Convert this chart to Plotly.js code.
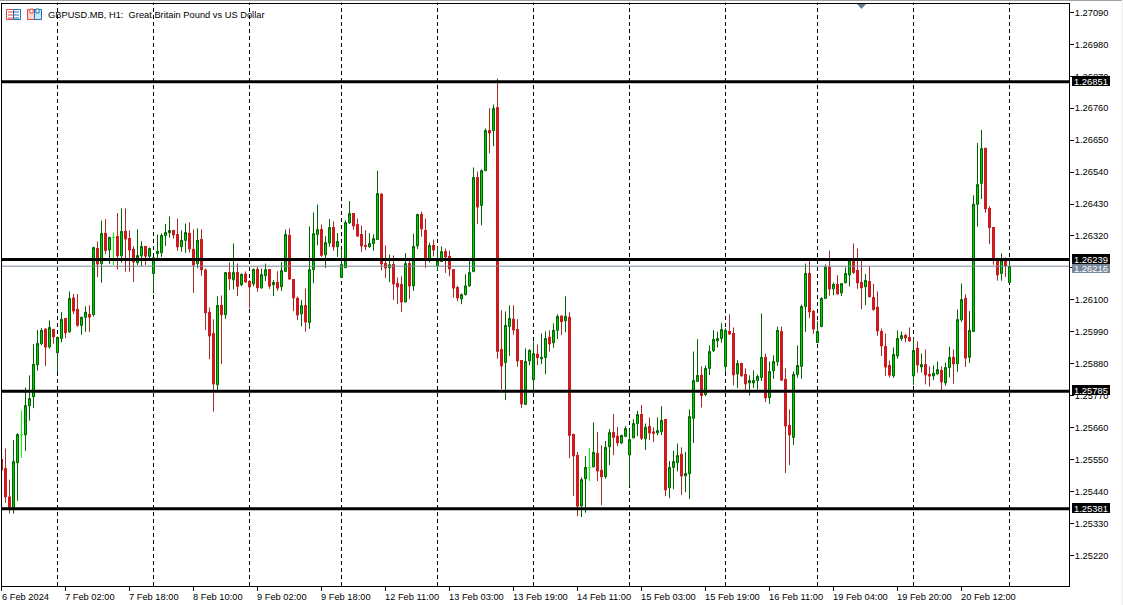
<!DOCTYPE html>
<html>
<head>
<meta charset="utf-8">
<script src="https://cdn.plot.ly/plotly-3.0.1.min.js"></script>
<style>html,body{margin:0;padding:0;background:#fff;overflow:hidden}#chart{width:1123px;height:605px}</style>
</head>
<body>
<div id="chart"></div>
<script>
const open = [
1.25550,1.25519,1.25421,1.25385,1.25539,1.25636,1.25635,1.25735,1.25766,1.25876,
1.25949,1.25999,1.25938,1.25998,1.25918,1.25967,1.26036,1.25990,1.26106,1.26067,
1.26012,1.26040,1.26050,1.26049,1.26277,1.26225,1.26329,1.26272,1.26315,1.26318,
1.26252,1.26336,1.26311,1.26274,1.26228,1.26252,1.26284,1.26250,1.26191,1.26259,
1.26262,1.26321,1.26331,1.26339,1.26325,1.26283,1.26305,1.26329,1.26274,1.26225,
1.26308,1.26202,1.26057,1.25984,1.25808,1.26081,1.26049,1.26194,1.26169,1.26194,
1.26152,1.26189,1.26163,1.26155,1.26205,1.26141,1.26183,1.26204,1.26152,1.26160,
1.26145,1.26198,1.26322,1.26170,1.26105,1.26052,1.26080,1.26022,1.26204,1.26325,
1.26342,1.26255,1.26296,1.26349,1.26283,1.26177,1.26211,1.26365,1.26397,1.26359,
1.26325,1.26287,1.26283,1.26294,1.26308,1.26464,1.26225,1.26211,1.26222,1.26156,
1.26153,1.26093,1.26225,1.26148,1.26286,1.26394,1.26339,1.26242,1.26287,1.26217,
1.26232,1.26266,1.26249,1.26204,1.26142,1.26103,1.26118,1.26148,1.26198,1.26521,
1.26425,1.26545,1.26683,1.26683,1.26762,1.25929,1.25884,1.26008,1.26033,1.25998,
1.25891,1.25740,1.25890,1.25825,1.25913,1.25897,1.25901,1.25971,1.25952,1.25995,
1.26044,1.26028,1.26040,1.25636,1.25564,1.25390,1.25484,1.25523,1.25525,1.25571,
1.25513,1.25491,1.25594,1.25643,1.25630,1.25607,1.25630,1.25566,1.25625,1.25674,
1.25705,1.25622,1.25664,1.25645,1.25642,1.25646,1.25688,1.25453,1.25523,1.25539,
1.25568,1.25494,1.25501,1.25692,1.25819,1.25840,1.25774,1.25864,1.25925,1.25959,
1.25967,1.25870,1.25991,1.25984,1.25845,1.25881,1.25843,1.25814,1.25814,1.25822,
1.25833,1.25902,1.25763,1.25856,1.25887,1.25991,1.25826,1.25667,1.25626,1.25843,
1.25871,1.26077,1.26191,1.26060,1.25953,1.26008,1.26105,1.26212,1.26138,1.26153,
1.26124,1.26159,1.26186,1.26236,1.26201,1.26160,1.26145,1.26163,1.26108,1.26074,
1.25991,1.25939,1.25874,1.25838,1.25907,1.25967,1.25977,1.25970,1.25838,1.25933,
1.25869,1.25877,1.25843,1.25838,1.25845,1.25857,1.25814,1.25867,1.25902,1.25880,
1.26031,1.26105,1.25902,1.25991,1.26429,1.26501,1.26621,1.26415,1.26349,1.26236,
1.26191,1.26236,1.26160];
const high = [
1.25552,1.25588,1.25481,1.25617,1.25641,1.25720,1.25798,1.25840,1.25948,1.25996,
1.26002,1.26002,1.26029,1.25998,1.25973,1.26058,1.26036,1.26129,1.26120,1.26120,
1.26042,1.26078,1.26081,1.26283,1.26301,1.26373,1.26378,1.26317,1.26332,1.26399,
1.26415,1.26415,1.26339,1.26284,1.26343,1.26302,1.26284,1.26280,1.26248,1.26325,
1.26329,1.26361,1.26387,1.26339,1.26380,1.26339,1.26363,1.26367,1.26343,1.26346,
1.26343,1.26208,1.26074,1.26033,1.26112,1.26115,1.26196,1.26229,1.26294,1.26225,
1.26191,1.26198,1.26168,1.26208,1.26214,1.26208,1.26225,1.26204,1.26168,1.26199,
1.26230,1.26342,1.26346,1.26172,1.26111,1.26099,1.26139,1.26353,1.26401,1.26428,
1.26359,1.26319,1.26378,1.26370,1.26330,1.26271,1.26374,1.26440,1.26397,1.26380,
1.26356,1.26340,1.26330,1.26326,1.26545,1.26466,1.26287,1.26256,1.26253,1.26177,
1.26181,1.26261,1.26239,1.26328,1.26397,1.26404,1.26380,1.26297,1.26308,1.26283,
1.26284,1.26277,1.26270,1.26204,1.26149,1.26122,1.26188,1.26234,1.26556,1.26542,
1.26550,1.26690,1.26760,1.26773,1.26862,1.26064,1.26060,1.26081,1.26081,1.26033,
1.25893,1.25933,1.25930,1.25957,1.25946,1.25984,1.25991,1.25995,1.26019,1.26050,
1.26046,1.26112,1.26057,1.25640,1.25576,1.25488,1.25562,1.25589,1.25678,1.25645,
1.25599,1.25614,1.25655,1.25707,1.25662,1.25636,1.25665,1.25654,1.25689,1.25718,
1.25738,1.25674,1.25695,1.25661,1.25695,1.25734,1.25690,1.25545,1.25581,1.25605,
1.25592,1.25576,1.25723,1.25922,1.25964,1.25871,1.25874,1.25943,1.25996,1.25991,
1.26019,1.26002,1.26050,1.26005,1.25892,1.25883,1.25864,1.25840,1.25857,1.25843,
1.26053,1.25915,1.25888,1.25909,1.26008,1.26008,1.25864,1.25723,1.25853,1.25943,
1.26084,1.26225,1.26239,1.26065,1.26026,1.26109,1.26222,1.26270,1.26160,1.26185,
1.26158,1.26212,1.26241,1.26294,1.26277,1.26236,1.26189,1.26215,1.26155,1.26129,
1.26001,1.25984,1.25891,1.25936,1.25995,1.25991,1.25984,1.26005,1.25969,1.25957,
1.25915,1.25929,1.25871,1.25874,1.25888,1.25871,1.25884,1.25939,1.25929,1.26067,
1.26156,1.26119,1.26061,1.26460,1.26640,1.26685,1.26625,1.26422,1.26351,1.26238,
1.26260,1.26246,1.26240];
const low = [
1.25510,1.25401,1.25364,1.25364,1.25408,1.25556,1.25580,1.25684,1.25727,1.25856,
1.25944,1.25872,1.25932,1.25949,1.25852,1.25954,1.25968,1.25987,1.26051,1.26007,
1.25980,1.25990,1.25990,1.26042,1.26178,1.26159,1.26258,1.26223,1.26220,1.26204,
1.26228,1.26197,1.26197,1.26161,1.26220,1.26216,1.26220,1.26241,1.26122,1.26243,
1.26248,1.26286,1.26314,1.26311,1.26269,1.26266,1.26262,1.26263,1.26124,1.26209,
1.26183,1.25996,1.25896,1.25715,1.25789,1.25879,1.26034,1.26134,1.26136,1.26113,
1.26147,1.26159,1.26072,1.26147,1.26128,1.26139,1.26165,1.26138,1.26113,1.26131,
1.26131,1.26196,1.26170,1.26061,1.26030,1.26009,1.25990,1.26000,1.26157,1.26288,
1.26248,1.26210,1.26283,1.26269,1.26248,1.26175,1.26209,1.26362,1.26342,1.26318,
1.26265,1.26271,1.26279,1.26269,1.26306,1.26202,1.26175,1.26161,1.26099,1.26085,
1.26058,1.26091,1.26102,1.26131,1.26275,1.26317,1.26210,1.26229,1.26250,1.26202,
1.26230,1.26193,1.26181,1.26108,1.26095,1.26085,1.26115,1.26145,1.26195,1.26361,
1.26357,1.26543,1.26605,1.26629,1.25897,1.25793,1.25755,1.25907,1.25980,1.25870,
1.25727,1.25738,1.25875,1.25789,1.25875,1.25879,1.25844,1.25922,1.25935,1.25965,
1.25979,1.25989,1.25555,1.25424,1.25355,1.25352,1.25367,1.25476,1.25523,1.25476,
1.25393,1.25484,1.25531,1.25565,1.25596,1.25603,1.25627,1.25459,1.25623,1.25631,
1.25617,1.25583,1.25617,1.25610,1.25634,1.25634,1.25424,1.25417,1.25448,1.25509,
1.25428,1.25438,1.25414,1.25607,1.25817,1.25729,1.25769,1.25841,1.25920,1.25936,
1.25952,1.25852,1.25979,1.25806,1.25796,1.25835,1.25787,1.25770,1.25796,1.25791,
1.25821,1.25748,1.25742,1.25828,1.25873,1.25821,1.25504,1.25531,1.25600,1.25832,
1.25828,1.25990,1.26037,1.25983,1.25951,1.26006,1.26103,1.26114,1.26116,1.26119,
1.26114,1.26157,1.26146,1.26189,1.26138,1.26068,1.26082,1.26109,1.26062,1.25976,
1.25907,1.25838,1.25832,1.25832,1.25897,1.25959,1.25954,1.25957,1.25807,1.25849,
1.25850,1.25809,1.25801,1.25824,1.25842,1.25789,1.25804,1.25833,1.25811,1.25852,
1.26024,1.25869,1.25883,1.25989,1.26352,1.26447,1.26400,1.26292,1.26221,1.26166,
1.26166,1.26179,1.26158];
const close = [
1.25514,1.25422,1.25380,1.25543,1.25636,1.25636,1.25736,1.25760,1.25878,1.25950,
1.25995,1.25938,1.26005,1.25973,1.25971,1.26033,1.25987,1.26105,1.26062,1.26013,
1.26040,1.26057,1.26041,1.26280,1.26224,1.26329,1.26271,1.26315,1.26315,1.26252,
1.26336,1.26310,1.26272,1.26231,1.26253,1.26284,1.26251,1.26277,1.26245,1.26267,
1.26322,1.26332,1.26339,1.26324,1.26283,1.26305,1.26332,1.26276,1.26221,1.26305,
1.26204,1.26056,1.25976,1.25811,1.26081,1.26049,1.26194,1.26173,1.26194,1.26147,
1.26188,1.26162,1.26145,1.26205,1.26142,1.26187,1.26204,1.26148,1.26160,1.26141,
1.26201,1.26325,1.26172,1.26107,1.26048,1.26080,1.26024,1.26204,1.26328,1.26342,
1.26254,1.26297,1.26349,1.26283,1.26301,1.26222,1.26366,1.26397,1.26355,1.26320,
1.26286,1.26285,1.26294,1.26311,1.26466,1.26224,1.26210,1.26221,1.26155,1.26145,
1.26093,1.26225,1.26148,1.26284,1.26394,1.26345,1.26242,1.26287,1.26272,1.26234,
1.26266,1.26248,1.26207,1.26141,1.26107,1.26118,1.26148,1.26194,1.26521,1.26420,
1.26545,1.26683,1.26675,1.26759,1.25923,1.25873,1.26012,1.26036,1.25997,1.25890,
1.25742,1.25888,1.25926,1.25915,1.25901,1.25902,1.25967,1.25949,1.25995,1.26043,
1.26025,1.26043,1.25634,1.25563,1.25390,1.25481,1.25523,1.25523,1.25575,1.25511,
1.25491,1.25592,1.25643,1.25627,1.25608,1.25633,1.25657,1.25619,1.25674,1.25705,
1.25624,1.25661,1.25642,1.25641,1.25650,1.25685,1.25446,1.25523,1.25543,1.25564,
1.25494,1.25502,1.25698,1.25822,1.25840,1.25771,1.25864,1.25922,1.25964,1.25967,
1.25998,1.25995,1.25983,1.25842,1.25881,1.25839,1.25811,1.25822,1.25822,1.25836,
1.25902,1.25763,1.25853,1.25888,1.25995,1.25824,1.25666,1.25635,1.25843,1.25874,
1.26077,1.26191,1.26059,1.26000,1.25991,1.26105,1.26212,1.26138,1.26153,1.26121,
1.26156,1.26191,1.26236,1.26195,1.26159,1.26142,1.26167,1.26111,1.26068,1.25993,
1.25942,1.25869,1.25841,1.25912,1.25967,1.25977,1.25969,1.25959,1.25926,1.25876,
1.25877,1.25842,1.25838,1.25847,1.25860,1.25818,1.25867,1.25902,1.25880,1.26032,
1.26101,1.25900,1.25995,1.26429,1.26497,1.26621,1.26414,1.26349,1.26236,1.26186,
1.26236,1.26217,1.26216];

const timeLabels = ['6 Feb 2024','7 Feb 02:00','7 Feb 18:00','8 Feb 10:00','9 Feb 02:00','9 Feb 18:00','12 Feb 11:00','13 Feb 03:00','13 Feb 19:00','14 Feb 11:00','15 Feb 03:00','15 Feb 19:00','16 Feb 11:00','19 Feb 04:00','19 Feb 20:00','20 Feb 12:00'];
const labelBars = [0,16,32,48,64,80,96,112,128,144,160,176,192,208,224,240];
const daySeparatorBars = [14,38,62,85,109,133,157,181,204,228,252];
const priceTicks = [1.27090,1.26980,1.26870,1.26760,1.26650,1.26540,1.26430,1.26320,1.26210,1.26100,1.25990,1.25880,1.25770,1.25660,1.25550,1.25440,1.25330,1.25220];
const priceTickText = priceTicks.map(v => v.toFixed(5));
const levels = [1.26851,1.26239,1.25785,1.25381];
const currentPrice = 1.26216;
const title = 'GBPUSD.MB, H1:  Great Britain Pound vs US Dollar';

// page geometry
const W = 1123, H = 605, L = 2, R = 1069, T = 4, B = 586;
const px = x => (x - L) / (R - L);
const py = y => (B - y) / (B - T);
const FONT = '"Liberation Sans", Arial, sans-serif';

const idx = open.map((_, i) => i);
const pick = (arr, ids) => ids.map(i => arr[i]);
const normal = idx.filter(i => open[i] !== close[i]);
const doji = idx.filter(i => open[i] === close[i]);
const falling = idx.filter(i => close[i] < open[i]);

const UP_LINE = '#006400', UP_FILL = '#00cc00', DOWN_WICK = '#a52a2a', DOWN_FILL = '#cd1a1f', DOJI = '#00ff00';

const traces = [
  {type:'candlestick', x:normal, open:pick(open,normal), high:pick(high,normal), low:pick(low,normal), close:pick(close,normal),
   whiskerwidth:0, hoverinfo:'skip', showlegend:false,
   increasing:{line:{color:UP_LINE,width:1},fillcolor:UP_FILL},
   decreasing:{line:{color:DOWN_WICK,width:1},fillcolor:DOWN_FILL}},
  // bodies of falling bars have no darker outline: only the wick stays brown
  {type:'candlestick', x:falling, open:pick(open,falling), close:pick(close,falling),
   high:falling.map(i=>open[i]), low:falling.map(i=>close[i]),
   whiskerwidth:0, hoverinfo:'skip', showlegend:false,
   increasing:{line:{color:DOWN_FILL,width:1},fillcolor:DOWN_FILL},
   decreasing:{line:{color:DOWN_FILL,width:1},fillcolor:DOWN_FILL}},
  {type:'candlestick', x:doji, open:pick(open,doji), high:pick(high,doji), low:pick(low,doji), close:pick(close,doji),
   whiskerwidth:0, hoverinfo:'skip', showlegend:false,
   increasing:{line:{color:DOJI,width:1},fillcolor:DOJI},
   decreasing:{line:{color:DOJI,width:1},fillcolor:DOJI}}
];

const shapes = [];
daySeparatorBars.forEach(k => shapes.push({type:'line',layer:'below',xref:'x',yref:'paper',x0:k,x1:k,y0:0,y1:1,line:{color:'#000',width:1,dash:'4px,3px'}}));
shapes.push({type:'line',layer:'above',xref:'paper',yref:'y',x0:0,x1:1,y0:currentPrice,y1:currentPrice,line:{color:'#778899',width:1}});
levels.forEach(v => shapes.push({type:'line',layer:'above',xref:'paper',yref:'y',x0:0,x1:1,y0:v,y1:v,line:{color:'#000',width:3}}));

// window chrome and the header icons, in page pixels
const pxPath = pts => pts.map((p,i)=>(i?'L':'M')+px(p[0])+','+py(p[1])).join(' ')+' Z';
const chromeRect = (x0,y0,x1,y1,line,fill) => ({type:'rect',layer:'above',xref:'paper',yref:'paper',x0:px(x0),x1:px(x1),y0:py(y0),y1:py(y1),line:{color:line||'rgba(0,0,0,0)',width:line?1:0},fillcolor:fill||'rgba(0,0,0,0)'});
shapes.push(chromeRect(-1,0,W,1,null,'#a0a0a0'));
shapes.push(chromeRect(W-1.5,0,W,H,null,'#f0f0f0'));
shapes.push(chromeRect(1,586,2,591,null,'#000')); // first time tick, on the left axis line
shapes.push({type:'path',layer:'above',xref:'paper',yref:'paper',path:pxPath([[857,4],[866,4],[861.5,9]]),fillcolor:'#607890',line:{width:0,color:'rgba(0,0,0,0)'}});
// list icon
shapes.push(chromeRect(6.5,9.5,13.5,19.5,'#e2483a','#fff'));
shapes.push(chromeRect(13.5,9.5,20.5,19.5,'#1e6fb4','#fff'));
[11.5,14.5,17.5].forEach(y=>{
  shapes.push(chromeRect(8,y,13,y+1,null,'#e2483a'));
  shapes.push(chromeRect(14,y,19,y+1,null,'#1e6fb4'));
});
// template icon
shapes.push(chromeRect(27.5,9.5,34.5,19.5,'#e2483a','#fbd7cf'));
shapes.push(chromeRect(34.5,9.5,41.5,19.5,'#1e6fb4','#cfe6f7'));
shapes.push(chromeRect(30,9,33,13,'#e2483a','#fff'));
shapes.push(chromeRect(36,9,39,13,'#1e6fb4','#fff'));

const tag = (v, bg, shift) => ({xref:'paper',yref:'y',x:px(1072),y:v,yshift:shift,xanchor:'left',yanchor:'middle',showarrow:false,
  text:v.toFixed(5),width:38,height:10,align:'center',valign:'middle',bgcolor:bg,borderpad:0,borderwidth:0,
  font:{family:FONT,size:9.4,color:'#fff'}});

const annotations = [
  {xref:'paper',yref:'paper',x:px(46.5),y:py(15),xanchor:'left',yanchor:'middle',showarrow:false,text:title.replace(/  /,'&nbsp;&nbsp;'),
   font:{family:FONT,size:9.3,color:'#000'},borderpad:0},
  // time labels start at their tick, as in the reference; bar 0 lies just left of the visible range
  ...timeLabels.map((t,i)=>({xref:i===0?'paper':'x',yref:'paper',x:i===0?px(0.5):labelBars[i],y:py(596.5),xanchor:'left',yanchor:'middle',showarrow:false,text:t,
   font:{family:FONT,size:9.3,color:'#000'},borderpad:0,xshift:i===0?0:-1.5})),
  tag(currentPrice,'#778899',-2),
  ...levels.slice().sort((a,b)=>a-b).map(v => tag(v,'#000',1))
];

const layout = {
  width:W, height:H, autosize:false,
  margin:{l:L, r:W-R, t:T, b:H-B, pad:0},
  paper_bgcolor:'#fff', plot_bgcolor:'#fff',
  showlegend:false, boxgap:0.5, boxgroupgap:0,
  font:{family:FONT,size:10,color:'#000'},
  xaxis:{type:'linear', range:[0.125,266.875], rangeslider:{visible:false}, showgrid:false, zeroline:false,
    showline:true, mirror:true, linecolor:'#000', linewidth:1,
    tickmode:'array', tickvals:labelBars, ticktext:timeLabels, showticklabels:false, ticks:'outside', ticklen:4, tickcolor:'#000', tickwidth:1},
  yaxis:{side:'right', range:[1.251146,1.271189], showgrid:false, zeroline:false,
    showline:true, mirror:true, linecolor:'#000', linewidth:1,
    tickmode:'array', tickvals:priceTicks, ticktext:priceTickText, ticks:'outside', ticklen:4, tickcolor:'#000', tickwidth:1,
    ticklabelstandoff:-1, tickfont:{family:FONT,size:9.3,color:'#000'}},
  shapes, annotations
};

Plotly.newPlot('chart', traces, layout, {displayModeBar:false, staticPlot:true});
</script>
</body>
</html>
